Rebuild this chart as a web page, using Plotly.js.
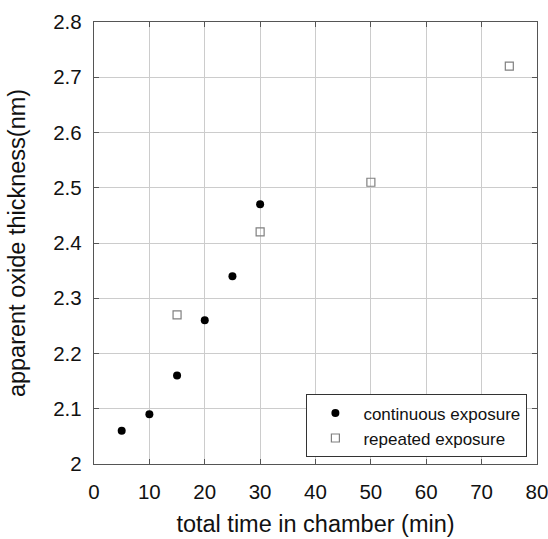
<!DOCTYPE html>
<html><head><meta charset="utf-8">
<script src="https://cdn.plot.ly/plotly-3.0.1.min.js"></script>
<style>body{margin:0;}#plot{width:548px;height:539px;}</style>
</head><body><div id="plot"></div>
<script>
const contX = [5, 10, 15, 20, 25, 30];
const contY = [2.06, 2.09, 2.16, 2.26, 2.34, 2.47];
const repX = [15, 30, 50, 75];
const repY = [2.27, 2.42, 2.51, 2.72];
const xTicks = [0, 10, 20, 30, 40, 50, 60, 70, 80];
const yTicks = [2, 2.1, 2.2, 2.3, 2.4, 2.5, 2.6, 2.7, 2.8];
const FONT = 'Liberation Sans, Arial';

const traces = [
  {x: contX, y: contY, mode: 'markers', type: 'scatter', name: 'continuous exposure',
   marker: {symbol: 'circle', size: 8, color: '#000'}},
  {x: repX, y: repY, mode: 'markers', type: 'scatter', name: 'repeated exposure',
   marker: {symbol: 'square-open', size: 8, color: '#808080', line: {width: 1.2}}}
];
const axBase = {showgrid: true, gridcolor: '#cccccc', gridwidth: 1, zeroline: false,
  showline: true, linecolor: '#555', linewidth: 1.2, mirror: 'ticks', ticks: 'inside',
  ticklen: 5, tickcolor: '#555', tickfont: {family: FONT, size: 20.5, color: '#111'},
  ticklabeloverflow: 'allow', automargin: false};
const layout = {
  width: 548, height: 539,
  margin: {l: 94, r: 11, t: 22, b: 75},
  paper_bgcolor: '#fff', plot_bgcolor: '#fff',
  showlegend: true,
  xaxis: Object.assign({}, axBase, {range: [0, 80], tickvals: xTicks, ticktext: xTicks.map(String),
    ticklabelstandoff: 9,
    title: {text: 'total time in chamber (min)', font: {family: FONT, size: 23.5, color: '#111'}, standoff: 13}}),
  yaxis: Object.assign({}, axBase, {range: [2, 2.8], tickvals: yTicks, ticktext: yTicks.map(v => String(v)),
    ticklabelstandoff: 7,
    title: {text: 'apparent oxide thickness(nm)', font: {family: FONT, size: 23.5, color: '#111'}, standoff: 21}}),
  legend: {x: 0.479, y: 0.158, xanchor: 'left', yanchor: 'top', bordercolor: '#333', borderwidth: 1.2,
    bgcolor: '#fff', font: {family: FONT, size: 17, color: '#111'},
    itemwidth: 46, tracegroupgap: 0}
};
Plotly.newPlot('plot', traces, layout, {displayModeBar: false, staticPlot: true});
</script></body></html>
